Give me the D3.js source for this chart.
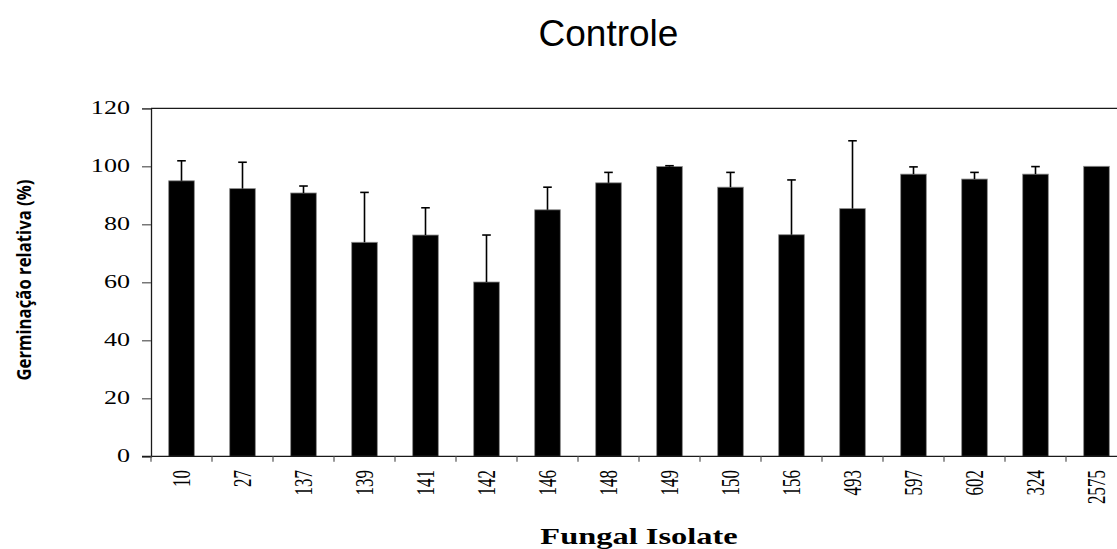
<!DOCTYPE html>
<html>
<head>
<meta charset="utf-8">
<script src="https://cdn.jsdelivr.net/npm/d3@7"></script>
<style>
  html, body { margin: 0; padding: 0; background: #fff; }
  svg { display: block; }
</style>
</head>
<body>
<svg id="chart" width="1117" height="549"></svg>
<script>
const categories = ["10","27","137","139","141","142","146","148","149","150","156","493","597","602","324","2575"];
const values     = [95.0, 92.3, 90.8, 73.8, 76.3, 60.1, 85.0, 94.3, 99.9, 92.8, 76.4, 85.4, 97.3, 95.6, 97.3, 100.0];
const errors     = [6.9, 9.1, 2.4, 17.2, 9.4, 16.2, 7.8, 3.6, 0.3, 5.1, 18.9, 23.4, 2.5, 2.3, 2.6, 0];
const yTicks     = [0, 20, 40, 60, 80, 100, 120];
const titleText  = "Controle";
const xTitle     = "Fungal Isolate";
const yTitle     = "Germinação relativa (%)";

(function () {
const svg = d3.select("#chart");
const pLeft = 151, pRight = 1127, pTop = 108.3, pBottom = 456.3;
const axisColor = "#1a1a1a";

const x = d3.scaleBand().domain(categories).range([pLeft, pRight]).padding(0);
const y = d3.scaleLinear().domain([0, 120]).range([pBottom, pTop]);
const barW = x.bandwidth() * 0.42;

// Title
svg.append("text")
  .attr("x", 608.5).attr("y", 46)
  .attr("text-anchor", "middle")
  .attr("font-family", "Liberation Sans, Arial, sans-serif")
  .attr("font-size", 37)
  .attr("fill", "#000")
  .text(titleText);

// Bars
svg.append("g").selectAll("rect")
  .data(categories)
  .join("rect")
  .attr("x", (d) => x(d) + (x.bandwidth() - barW) / 2)
  .attr("y", (d, i) => y(values[i]))
  .attr("width", barW)
  .attr("height", (d, i) => y(0) - y(values[i]))
  .attr("fill", "#000")
  .attr("stroke", "#8a8a8a")
  .attr("stroke-width", 0.8);

// Error bars (upper)
const eb = svg.append("g").attr("stroke", "#000").attr("stroke-width", 1.6);
categories.forEach((c, i) => {
  if (errors[i] <= 0) return;
  const cx = x(c) + x.bandwidth() / 2;
  eb.append("line")
    .attr("x1", cx).attr("x2", cx)
    .attr("y1", y(values[i])).attr("y2", y(values[i] + errors[i]));
  eb.append("line")
    .attr("x1", cx - 4.3).attr("x2", cx + 4.3)
    .attr("y1", y(values[i] + errors[i])).attr("y2", y(values[i] + errors[i]));
});

// Top border
svg.append("line")
  .attr("x1", pLeft).attr("x2", pRight)
  .attr("y1", pTop).attr("y2", pTop)
  .attr("stroke", axisColor).attr("stroke-width", 1.3);

// Y axis
const yAxis = d3.axisLeft(y).tickValues(yTicks).tickSize(9).tickFormat("");
const gy = svg.append("g").attr("transform", `translate(${pLeft},0)`).call(yAxis);
gy.select(".domain").attr("stroke", axisColor).attr("stroke-width", 1.3);
gy.selectAll(".tick line").attr("stroke", "#555").attr("stroke-width", 1.2);

svg.append("g").selectAll("text")
  .data(yTicks)
  .join("text")
  .attr("transform", (d) => `translate(130,${y(d)}) scale(1.45,1)`)
  .attr("text-anchor", "end")
  .attr("dominant-baseline", "central")
  .attr("font-family", "Liberation Serif, Times New Roman, serif")
  .attr("font-size", 18)
  .attr("fill", "#000")
  .text((d) => d);

// X axis
svg.append("line")
  .attr("x1", pLeft - 9).attr("x2", pRight)
  .attr("y1", pBottom).attr("y2", pBottom)
  .attr("stroke", axisColor).attr("stroke-width", 1.3);

svg.append("g").selectAll("line")
  .data(categories)
  .join("line")
  .attr("x1", (d) => x(d)).attr("x2", (d) => x(d))
  .attr("y1", pBottom).attr("y2", pBottom + 5.5)
  .attr("stroke", "#555").attr("stroke-width", 1.2);

svg.append("g").selectAll("text")
  .data(categories)
  .join("text")
  .attr("transform", (d) => `translate(${x(d) + x.bandwidth() / 2 + 0.5},470) rotate(-90) scale(1,1.5)`)
  .attr("text-anchor", "end")
  .attr("dominant-baseline", "central")
  .attr("font-family", "Liberation Serif, Times New Roman, serif")
  .attr("font-size", 17)
  .attr("fill", "#000")
  .text((d) => d);

// X title
svg.append("text")
  .attr("transform", "translate(639,544) scale(1.41,1)")
  .attr("text-anchor", "middle")
  .attr("font-family", "Liberation Serif, Times New Roman, serif")
  .attr("font-weight", "bold")
  .attr("font-size", 23)
  .attr("fill", "#000")
  .text(xTitle);

// Y title
svg.append("text")
  .attr("transform", "translate(31,280) rotate(-90) scale(1,1.45)")
  .attr("text-anchor", "middle")
  .attr("font-family", "Open Sans, Noto Sans, sans-serif")
  .attr("font-weight", "bold")
  .attr("font-size", 14)
  .attr("textLength", 201)
  .attr("lengthAdjust", "spacingAndGlyphs")
  .attr("fill", "#000")
  .text(yTitle);
})();
</script>
</body>
</html>
